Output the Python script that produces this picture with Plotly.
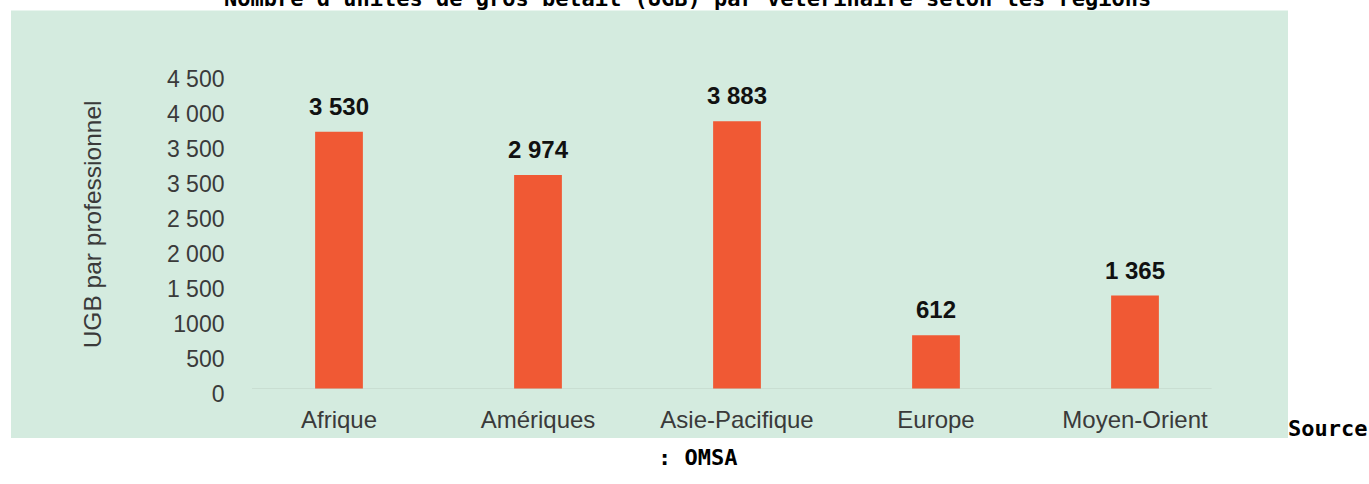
import plotly.graph_objects as go

W, H = 1369, 484

regions = ["Afrique", "Amériques", "Asie-Pacifique", "Europe", "Moyen-Orient"]
bar_values = [3680, 3060, 3830, 770, 1335]
value_labels = ["3 530", "2 974", "3 883", "612", "1 365"]
tick_values = [0, 500, 1000, 1500, 2000, 2500, 3000, 3500, 4000, 4500]
tick_labels = ["0", "500", "1000", "1 500", "2 000", "2 500", "3 500", "3 500", "4 000", "4 500"]

title_text = "Nombre d'unités de gros bétail (UGB) par vétérinaire selon les régions"
y_title = "UGB par professionnel"

BG = "#d4ebdf"
BAR = "#f05934"
TXT = "#3a3a3a"
SANS = "Liberation Sans, Arial, Helvetica, sans-serif"
MONO = "DejaVu Sans Mono, monospace"


def px_x(p):
    return p / W


def px_y(p):
    return 1 - p / H


fig = go.Figure()
fig.add_trace(go.Bar(
    x=regions, y=bar_values,
    marker=dict(color=BAR, line=dict(width=0)),
    hoverinfo="skip",
))

# value labels above bars
for r, v, lab in zip(regions, bar_values, value_labels):
    fig.add_annotation(x=r, y=v, xref="x", yref="y", text="<b>%s</b>" % lab,
                       showarrow=False, yanchor="bottom", yshift=10,
                       font=dict(family=SANS, size=24, color="#111111"))

# light baseline
fig.add_shape(type="line", xref="x", yref="y", x0=-0.437, x1=4.385, y0=0, y1=0,
              line=dict(color="#bfd2c7", width=1), layer="above")

# green panel
fig.add_shape(type="rect", xref="paper", yref="paper",
              x0=px_x(11), x1=px_x(1288), y0=px_y(455), y1=px_y(11),
              fillcolor=BG, line=dict(width=0), layer="below")

# y-axis title
fig.add_annotation(xref="paper", yref="paper", x=px_x(92), y=px_y(233),
                   text=y_title, textangle=-90, showarrow=False,
                   xanchor="center", yanchor="middle",
                   font=dict(family=SANS, size=24.5, color=TXT))

# page title (partly cut off at the top)
fig.add_annotation(xref="paper", yref="paper", x=px_x(687.5), y=px_y(-1.7),
                   text="<b>%s</b>" % title_text, showarrow=False,
                   xanchor="center", yanchor="middle",
                   font=dict(family=MONO, size=22, color="#000000"))

# source, wrapped
fig.add_annotation(xref="paper", yref="paper", x=px_x(1286), y=px_y(445),
                   text="<b>Source</b>", showarrow=False,
                   xanchor="left", yanchor="middle",
                   font=dict(family=MONO, size=22, color="#000000"))
fig.add_annotation(xref="paper", yref="paper", x=px_x(656), y=px_y(475),
                   text="<b>: OMSA</b>", showarrow=False,
                   xanchor="left", yanchor="middle",
                   font=dict(family=MONO, size=22, color="#000000"))

fig.update_layout(
    width=W, height=H,
    margin=dict(l=0, r=0, t=0, b=0),
    paper_bgcolor="white",
    plot_bgcolor="rgba(0,0,0,0)",
    showlegend=False,
    bargap=0.76,
    xaxis=dict(domain=[px_x(239.5), px_x(1234.5)], range=[-0.5, 4.5],
               showgrid=False, zeroline=False, showline=False, ticks="",
               tickfont=dict(family=SANS, size=24, color=TXT),
               ticklabelstandoff=14, fixedrange=True),
    yaxis=dict(domain=[px_y(404), px_y(59)], range=[0, 4750],
               tickmode="array", tickvals=tick_values, ticktext=tick_labels,
               showgrid=False, zeroline=False, showline=False, ticks="",
               tickfont=dict(family=SANS, size=23, color=TXT),
               ticklabelstandoff=14, ticklabelshift=5, fixedrange=True),
)

fig.write_html("out.html", config={"displayModeBar": False},
               post_script="document.body.style.margin='0';")
